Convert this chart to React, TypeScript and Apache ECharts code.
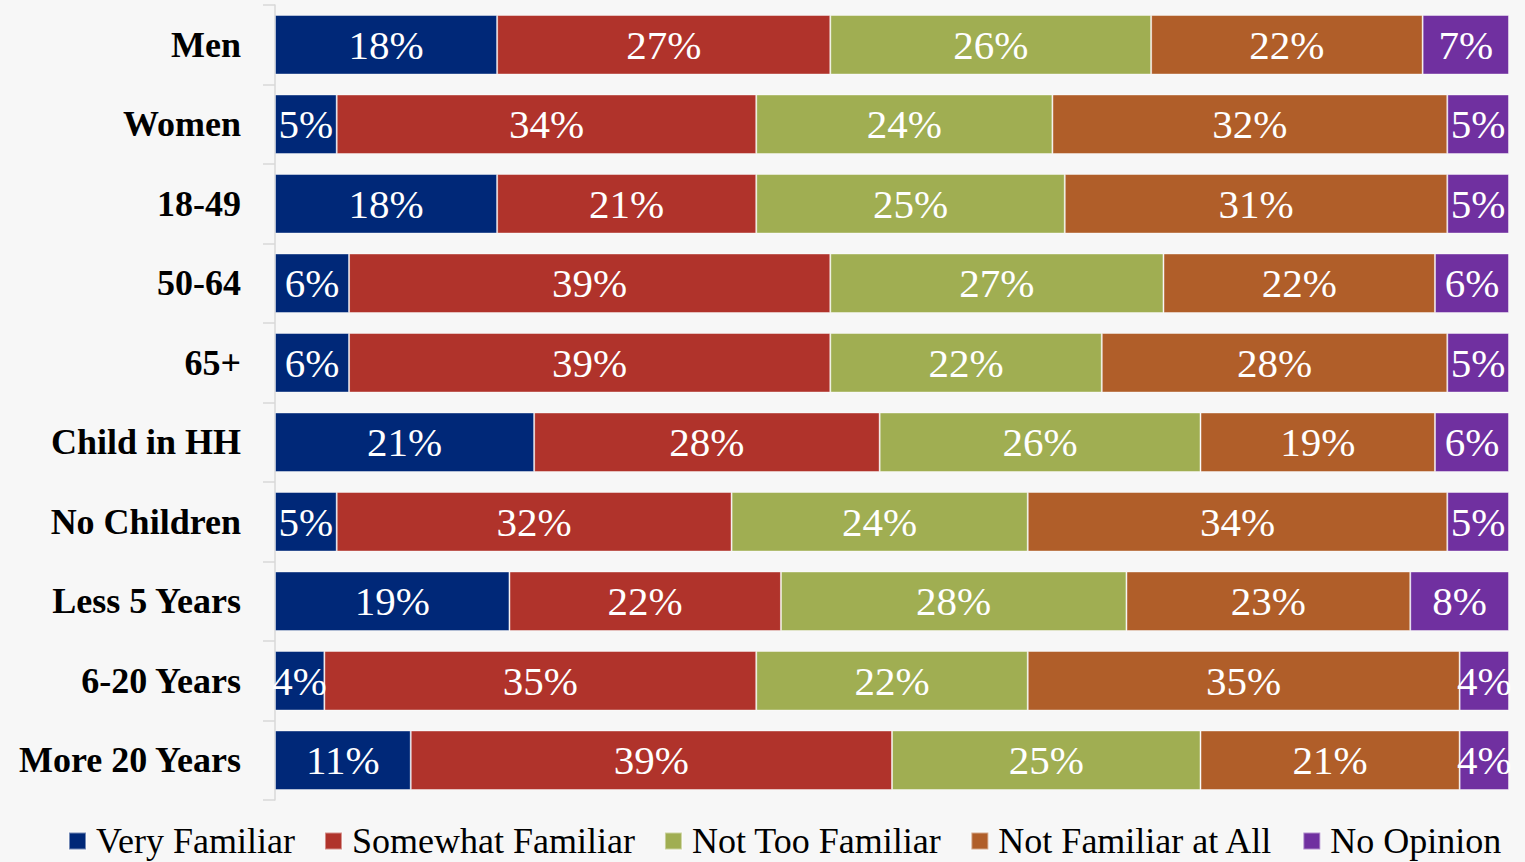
import React, { useEffect, useRef } from "react";
import * as echarts from "echarts";

const categories = [
  "Men",
  "Women",
  "18-49",
  "50-64",
  "65+",
  "Child in HH",
  "No Children",
  "Less 5 Years",
  "6-20 Years",
  "More 20 Years",
];

const seriesNames = [
  "Very Familiar",
  "Somewhat Familiar",
  "Not Too Familiar",
  "Not Familiar at All",
  "No Opinion",
];

const veryFamiliar = [18, 5, 18, 6, 6, 21, 5, 19, 4, 11];
const somewhatFamiliar = [27, 34, 21, 39, 39, 28, 32, 22, 35, 39];
const notTooFamiliar = [26, 24, 25, 27, 22, 26, 24, 28, 22, 25];
const notFamiliarAtAll = [22, 32, 31, 22, 28, 19, 34, 23, 35, 21];
const noOpinion = [7, 5, 5, 6, 5, 6, 5, 8, 4, 4];

const seriesValues = [
  veryFamiliar,
  somewhatFamiliar,
  notTooFamiliar,
  notFamiliarAtAll,
  noOpinion,
];

const colors = ["#002878", "#b0332b", "#a0ae52", "#b05e29", "#7030a0"];

const FONT = "Liberation Serif";

export default function App() {
  const ref = useRef<HTMLDivElement>(null);

  useEffect(() => {
    if (!ref.current) return;
    const chart = echarts.init(ref.current, undefined, { renderer: "svg" });
    chart.setOption({
      animation: false,
      backgroundColor: "#f7f7f7",
      textStyle: { fontFamily: FONT },
      grid: { left: 275, right: 16, top: 5, bottom: 62, containLabel: false },
      legend: {
        bottom: -2,
        left: 63,
        itemWidth: 17,
        itemHeight: 17,
        itemGap: 29,
        icon: "rect",
        textStyle: {
          fontFamily: FONT,
          fontSize: 36,
          color: "#000",
          padding: [0, 0, 0, 5],
        },
        data: seriesNames,
      },
      xAxis: {
        type: "value",
        min: 0,
        max: 100,
        show: false,
      },
      yAxis: {
        type: "category",
        inverse: true,
        data: categories,
        axisLine: { show: true, lineStyle: { color: "#d9d9d9", width: 1.5 } },
        axisTick: { show: true, length: 12, lineStyle: { color: "#d9d9d9", width: 1.5 } },
        axisLabel: {
          fontFamily: FONT,
          fontSize: 36,
          fontWeight: "bold",
          color: "#000",
          margin: 34,
        },
        splitLine: { show: false },
      },
      series: seriesNames.map((name, i) => ({
        name,
        type: "bar",
        stack: "total",
        barWidth: "75%",
        data: seriesValues[i],
        itemStyle: {
          color: colors[i],
          borderColor: "rgba(255,255,255,0.45)",
          borderWidth: 1,
        },
        label: {
          show: true,
          position: "inside",
          formatter: "{c}%",
          color: "#fff",
          fontFamily: FONT,
          fontSize: 41,
        },
      })),
    });
    return () => chart.dispose();
  }, []);

  return (
    <div
      ref={ref}
      style={{ position: "fixed", left: 0, top: 0, width: 1525, height: 862 }}
    />
  );
}
